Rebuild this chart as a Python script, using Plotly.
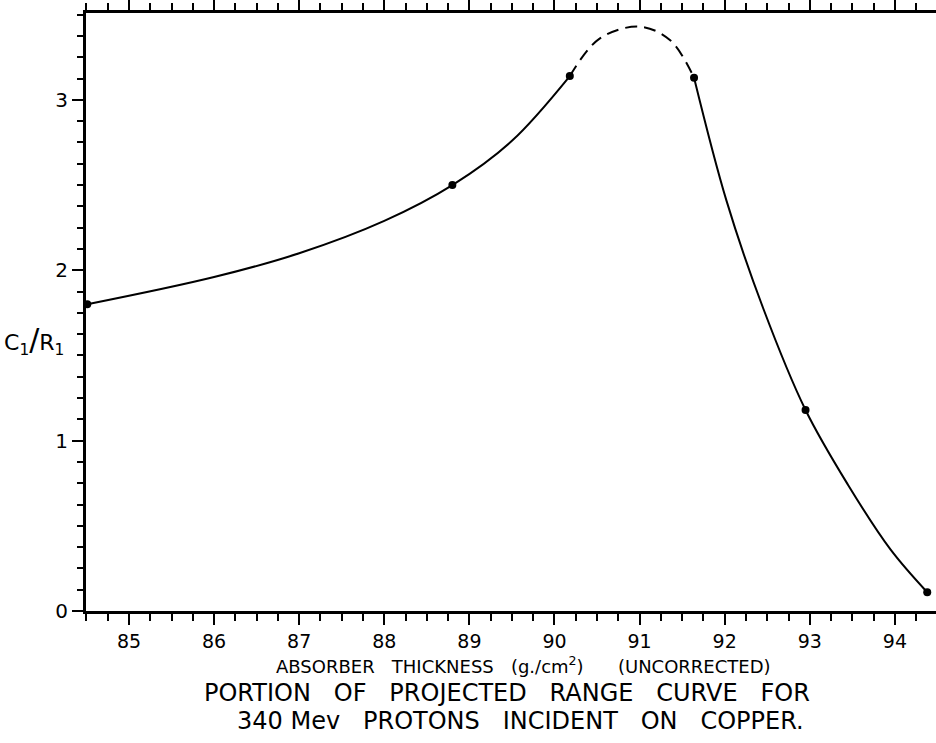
import plotly.graph_objects as go

pt_x = [84.51, 88.80, 90.18, 91.64, 92.95, 94.38]
pt_y = [1.80, 2.50, 3.14, 3.13, 1.18, 0.11]

# curve
solid1_x = [84.51, 86.0, 87.0, 88.0, 88.80, 89.5, 90.18]
solid1_y = [1.80, 1.96, 2.10, 2.29, 2.50, 2.76, 3.14]
dash_x = [90.18, 90.53, 91.0, 91.36, 91.64]
dash_y = [3.14, 3.36, 3.43, 3.35, 3.13]
solid2_x = [91.64, 92.02, 92.45, 92.95, 93.45, 93.95, 94.38]
solid2_y = [3.13, 2.41, 1.78, 1.18, 0.74, 0.36, 0.11]

x_ticks = [85, 86, 87, 88, 89, 90, 91, 92, 93, 94]
y_ticks = [0, 1, 2, 3]

FONT = "DejaVu Sans"

fig = go.Figure()
line = dict(color="black", width=2, shape="spline", smoothing=1.0)
fig.add_trace(go.Scatter(x=solid1_x, y=solid1_y, mode="lines", line=line))
fig.add_trace(go.Scatter(x=dash_x, y=dash_y, mode="lines",
                         line=dict(line, dash="12px,7px")))
fig.add_trace(go.Scatter(x=solid2_x, y=solid2_y, mode="lines", line=line))
fig.add_trace(go.Scatter(x=pt_x, y=pt_y, mode="markers",
                         marker=dict(color="black", size=8), cliponaxis=False))

fig.update_layout(
    width=936, height=743,
    margin=dict(l=86, r=0, t=13, b=132),
    paper_bgcolor="white", plot_bgcolor="white",
    showlegend=False,
    font=dict(family=FONT, color="black"),
)
fig.update_xaxes(
    range=[84.495, 94.483], tickvals=x_ticks,
    ticks="outside", ticklen=11, tickwidth=2, tickcolor="black",
    showline=True, linecolor="black", linewidth=3, mirror="ticks",
    showgrid=False, zeroline=False,
    tickfont=dict(size=19, family=FONT),
    minor=dict(dtick=0.25, tick0=85, ticks="outside", ticklen=7,
               tickwidth=2, tickcolor="black", showgrid=False),
)
fig.update_yaxes(
    range=[0, 3.51], tickvals=y_ticks,
    ticks="outside", ticklen=11, tickwidth=2, tickcolor="black",
    showline=True, linecolor="black", linewidth=3, mirror=False,
    showgrid=False, zeroline=False,
    tickfont=dict(size=20, family=FONT),
    minor=dict(dtick=0.125, tick0=0, ticks="outside", ticklen=6,
               tickwidth=2, tickcolor="black", showgrid=False),
)

fig.add_annotation(
    text="ABSORBER   THICKNESS   (g./cm<sup>2</sup>)      (UNCORRECTED)",
    xref="paper", yref="paper", x=(523 - 86) / 850, y=-(665 - 611) / 598,
    showarrow=False, font=dict(size=18, family=FONT), xanchor="center", yanchor="middle")
fig.add_annotation(
    text="PORTION   OF   PROJECTED   RANGE   CURVE   FOR",
    xref="paper", yref="paper", x=(507 - 86) / 850, y=-(693 - 611) / 598,
    showarrow=False, font=dict(size=24, family=FONT), xanchor="center", yanchor="middle")
fig.add_annotation(
    text="340 Mev   PROTONS   INCIDENT   ON   COPPER.",
    xref="paper", yref="paper", x=(520 - 86) / 850, y=-(721 - 611) / 598,
    showarrow=False, font=dict(size=24, family=FONT), xanchor="center", yanchor="middle")
fig.add_annotation(
    text="C<sub>1</sub><span style='font-size:30px'>/</span>R<sub>1</sub>",
    xref="paper", yref="paper", x=-(86 - 34) / 850, y=(611 - 340) / 598,
    showarrow=False, font=dict(size=22, family=FONT), xanchor="center", yanchor="middle")

fig.write_html("out.html")
